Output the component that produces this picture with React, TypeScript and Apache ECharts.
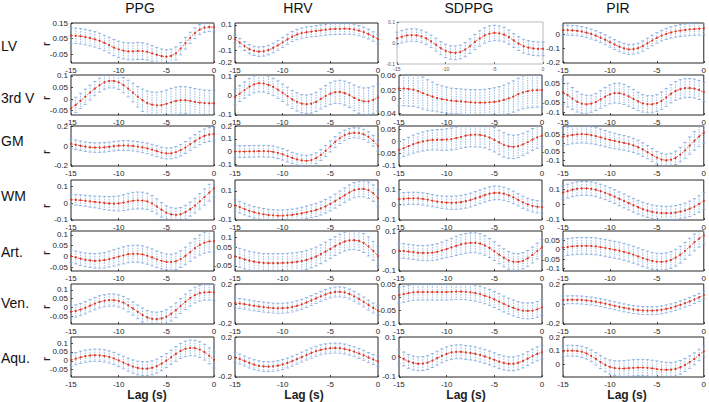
import React, { useEffect, useRef } from "react";
import * as echarts from "echarts";

const lags = [-15, -14.5, -14, -13.5, -13, -12.5, -12, -11.5, -11, -10.5, -10, -9.5, -9, -8.5, -8, -7.5, -7, -6.5, -6, -5.5, -5, -4.5, -4, -3.5, -3, -2.5, -2, -1.5, -1, -0.5, 0];
const rowNames = ["LV", "3rd V", "GM", "WM", "Art.", "Ven.", "Aqu."];
const colNames = ["PPG", "HRV", "SDPPG", "PIR"];
const xTicks = [-15, -10, -5, 0];

// ---- LV ----
const lvPPG = [0.07,0.068,0.065,0.06,0.053,0.045,0.035,0.022,0.008,-0.008,-0.02,-0.028,-0.032,-0.032,-0.03,-0.031,-0.036,-0.045,-0.055,-0.063,-0.067,-0.062,-0.045,-0.015,0.02,0.055,0.085,0.108,0.12,0.125,0.123];
const lvPPGErr = [0.05,0.05,0.05,0.05,0.05,0.05,0.05,0.05,0.051,0.052,0.053,0.054,0.055,0.055,0.055,0.054,0.052,0.05,0.048,0.046,0.045,0.044,0.042,0.04,0.038,0.036,0.034,0.032,0.03,0.03,0.03];
const lvHRV = [-0.013,-0.04,-0.068,-0.092,-0.106,-0.112,-0.11,-0.1,-0.083,-0.062,-0.039,-0.015,0.008,0.024,0.035,0.042,0.047,0.052,0.057,0.062,0.066,0.068,0.069,0.07,0.069,0.064,0.055,0.043,0.027,0.008,-0.013];
const lvHRVErr = [0.033,0.034,0.035,0.036,0.037,0.038,0.038,0.038,0.039,0.039,0.04,0.04,0.04,0.041,0.041,0.042,0.042,0.043,0.043,0.043,0.044,0.044,0.044,0.043,0.043,0.042,0.041,0.04,0.039,0.038,0.037];
const lvSDPPG = [0.022,0.03,0.036,0.038,0.037,0.032,0.022,0.008,-0.008,-0.025,-0.038,-0.045,-0.047,-0.043,-0.032,-0.015,0.005,0.022,0.036,0.045,0.048,0.046,0.04,0.028,0.012,-0.003,-0.015,-0.022,-0.026,-0.028,-0.028];
const lvSDPPGErr = [0.03,0.03,0.03,0.03,0.03,0.03,0.03,0.03,0.031,0.031,0.032,0.032,0.033,0.033,0.034,0.035,0.036,0.037,0.037,0.037,0.037,0.036,0.035,0.034,0.033,0.033,0.033,0.033,0.033,0.033,0.033];
const lvPIR = [0.032,0.032,0.03,0.027,0.022,0.014,0.004,-0.008,-0.022,-0.038,-0.055,-0.072,-0.088,-0.1,-0.107,-0.106,-0.098,-0.083,-0.063,-0.043,-0.024,-0.008,0.005,0.015,0.023,0.029,0.033,0.037,0.04,0.042,0.044];
const lvPIRErr = [0.036,0.036,0.036,0.036,0.036,0.036,0.036,0.036,0.036,0.036,0.036,0.036,0.036,0.036,0.036,0.036,0.036,0.037,0.037,0.038,0.038,0.039,0.04,0.041,0.042,0.043,0.044,0.045,0.046,0.047,0.048];

// ---- 3rd V ----
const v3PPG = [-0.04,-0.025,-0.008,0.01,0.028,0.045,0.06,0.072,0.078,0.078,0.072,0.06,0.045,0.028,0.01,-0.005,-0.017,-0.024,-0.027,-0.026,-0.021,-0.014,-0.008,-0.005,-0.005,-0.008,-0.012,-0.015,-0.017,-0.018,-0.018];
const v3PPGErr = [0.033,0.033,0.033,0.033,0.032,0.031,0.03,0.03,0.03,0.03,0.031,0.033,0.036,0.04,0.044,0.048,0.052,0.055,0.057,0.059,0.06,0.06,0.06,0.059,0.058,0.058,0.057,0.057,0.056,0.056,0.055];
const v3HRV = [-0.008,0.01,0.028,0.045,0.057,0.063,0.062,0.055,0.044,0.03,0.014,-0.003,-0.02,-0.033,-0.042,-0.045,-0.042,-0.033,-0.018,-0.003,0.01,0.017,0.018,0.012,0.002,-0.012,-0.024,-0.03,-0.03,-0.022,-0.01];
const v3HRVErr = [0.04,0.041,0.042,0.043,0.044,0.045,0.045,0.045,0.045,0.045,0.045,0.046,0.046,0.047,0.047,0.048,0.049,0.05,0.052,0.054,0.056,0.058,0.06,0.062,0.064,0.066,0.068,0.069,0.07,0.07,0.07];
const v3SDPPG = [0.025,0.025,0.024,0.022,0.018,0.013,0.008,0.004,0,-0.003,-0.005,-0.007,-0.008,-0.009,-0.01,-0.011,-0.012,-0.012,-0.012,-0.011,-0.01,-0.008,-0.005,-0.001,0.004,0.01,0.015,0.018,0.02,0.021,0.021];
const v3SDPPGErr = [0.045,0.045,0.045,0.044,0.043,0.042,0.04,0.038,0.036,0.035,0.034,0.033,0.033,0.033,0.033,0.033,0.034,0.034,0.035,0.036,0.037,0.038,0.039,0.04,0.041,0.042,0.043,0.044,0.045,0.045,0.045];
const v3PIR = [0.005,-0.01,-0.028,-0.045,-0.055,-0.058,-0.055,-0.046,-0.033,-0.018,-0.006,0,0,-0.006,-0.017,-0.03,-0.043,-0.053,-0.058,-0.058,-0.052,-0.04,-0.022,-0.003,0.012,0.021,0.026,0.027,0.024,0.017,0.006];
const v3PIRErr = [0.065,0.062,0.058,0.054,0.05,0.047,0.045,0.045,0.046,0.048,0.05,0.052,0.053,0.053,0.052,0.05,0.048,0.046,0.045,0.045,0.045,0.046,0.047,0.048,0.049,0.05,0.05,0.05,0.05,0.05,0.05];

// ---- GM ----
const gmPPG = [0.022,0.012,0.002,-0.007,-0.013,-0.016,-0.016,-0.013,-0.008,-0.002,0.003,0.005,0.004,0,-0.006,-0.014,-0.024,-0.037,-0.052,-0.066,-0.074,-0.073,-0.062,-0.042,-0.015,0.018,0.05,0.08,0.102,0.115,0.12];
const gmPPGErr = [0.048,0.048,0.048,0.048,0.048,0.048,0.048,0.048,0.048,0.048,0.048,0.049,0.05,0.05,0.051,0.052,0.053,0.054,0.055,0.055,0.055,0.055,0.056,0.058,0.06,0.062,0.064,0.066,0.068,0.07,0.07];
const gmHRV = [0,0,0,0.001,0.002,0.003,0.003,0.002,-0.002,-0.01,-0.022,-0.036,-0.05,-0.062,-0.07,-0.073,-0.068,-0.052,-0.027,0.005,0.04,0.075,0.105,0.128,0.142,0.147,0.145,0.135,0.115,0.085,0.045];
const gmHRVErr = [0.046,0.046,0.046,0.046,0.046,0.046,0.046,0.046,0.046,0.045,0.045,0.045,0.044,0.044,0.043,0.043,0.043,0.043,0.043,0.043,0.043,0.042,0.042,0.041,0.04,0.04,0.04,0.04,0.041,0.042,0.043];
const gmSDPPG = [-0.034,-0.027,-0.019,-0.011,-0.005,0,0.004,0.006,0.007,0.007,0.008,0.01,0.014,0.019,0.024,0.027,0.028,0.027,0.023,0.016,0.007,-0.004,-0.014,-0.02,-0.022,-0.019,-0.012,-0.003,0.008,0.017,0.024];
const gmSDPPGErr = [0.034,0.035,0.036,0.037,0.038,0.039,0.04,0.041,0.042,0.043,0.044,0.045,0.046,0.047,0.048,0.049,0.05,0.05,0.05,0.05,0.05,0.05,0.05,0.049,0.048,0.047,0.046,0.045,0.045,0.045,0.045];
const gmPIR = [0.035,0.04,0.045,0.048,0.049,0.048,0.044,0.038,0.031,0.024,0.017,0.011,0.005,0,-0.006,-0.014,-0.024,-0.037,-0.052,-0.068,-0.083,-0.094,-0.098,-0.095,-0.084,-0.066,-0.042,-0.015,0.012,0.036,0.058];
const gmPIRErr = [0.05,0.05,0.05,0.05,0.05,0.05,0.049,0.048,0.047,0.046,0.045,0.044,0.043,0.042,0.041,0.04,0.039,0.038,0.037,0.036,0.035,0.035,0.035,0.036,0.038,0.041,0.045,0.049,0.053,0.057,0.06];

// ---- WM ----
const wmPPG = [0.02,0.019,0.017,0.014,0.01,0.007,0.004,0.001,-0.002,-0.003,-0.002,0.003,0.009,0.014,0.016,0.015,0.01,-0.002,-0.02,-0.04,-0.057,-0.067,-0.07,-0.066,-0.054,-0.036,-0.015,0.01,0.036,0.062,0.088];
const wmPPGErr = [0.03,0.031,0.032,0.033,0.034,0.035,0.037,0.039,0.041,0.043,0.045,0.047,0.049,0.05,0.05,0.05,0.049,0.047,0.045,0.043,0.041,0.04,0.04,0.04,0.041,0.042,0.044,0.046,0.048,0.05,0.05];
const wmHRV = [0,-0.012,-0.025,-0.037,-0.047,-0.055,-0.061,-0.066,-0.069,-0.071,-0.071,-0.069,-0.065,-0.06,-0.054,-0.047,-0.04,-0.031,-0.02,-0.006,0.01,0.03,0.05,0.07,0.09,0.105,0.113,0.114,0.105,0.085,0.05];
const wmHRVErr = [0.04,0.04,0.04,0.04,0.04,0.04,0.04,0.04,0.04,0.04,0.04,0.04,0.04,0.041,0.042,0.043,0.044,0.045,0.046,0.047,0.048,0.049,0.05,0.051,0.052,0.053,0.054,0.055,0.056,0.057,0.058];
const wmSDPPG = [0.035,0.038,0.04,0.041,0.04,0.037,0.032,0.026,0.02,0.016,0.013,0.012,0.013,0.016,0.022,0.03,0.04,0.051,0.062,0.071,0.076,0.076,0.071,0.061,0.047,0.031,0.015,0.002,-0.008,-0.014,-0.017];
const wmSDPPGErr = [0.04,0.04,0.04,0.04,0.04,0.04,0.04,0.04,0.04,0.041,0.042,0.043,0.044,0.045,0.045,0.045,0.045,0.045,0.045,0.045,0.045,0.044,0.043,0.042,0.041,0.04,0.04,0.04,0.04,0.04,0.04];
const wmPIR = [0.078,0.088,0.097,0.103,0.106,0.106,0.103,0.097,0.088,0.077,0.065,0.052,0.038,0.024,0.01,-0.004,-0.017,-0.029,-0.039,-0.047,-0.052,-0.055,-0.056,-0.055,-0.052,-0.046,-0.038,-0.027,-0.013,0.004,0.024];
const wmPIRErr = [0.045,0.045,0.045,0.045,0.045,0.045,0.045,0.045,0.045,0.045,0.045,0.045,0.045,0.045,0.045,0.045,0.045,0.045,0.045,0.045,0.045,0.045,0.045,0.045,0.046,0.047,0.048,0.05,0.052,0.054,0.056];

// ---- Art. ----
const artPPG = [0.001,-0.005,-0.011,-0.016,-0.019,-0.021,-0.02,-0.018,-0.013,-0.007,-0.001,0.005,0.01,0.012,0.012,0.009,0.003,-0.005,-0.014,-0.021,-0.026,-0.027,-0.023,-0.013,0.002,0.02,0.038,0.053,0.064,0.07,0.071];
const artPPGErr = [0.03,0.03,0.031,0.032,0.033,0.034,0.035,0.036,0.037,0.038,0.039,0.04,0.04,0.04,0.04,0.04,0.04,0.04,0.039,0.038,0.037,0.037,0.038,0.039,0.041,0.043,0.045,0.047,0.049,0.05,0.05];
const artHRV = [0.001,-0.007,-0.015,-0.022,-0.027,-0.031,-0.034,-0.035,-0.035,-0.035,-0.034,-0.033,-0.031,-0.028,-0.024,-0.018,-0.01,0,0.012,0.026,0.04,0.055,0.068,0.079,0.085,0.086,0.082,0.071,0.053,0.03,0.002];
const artHRVErr = [0.05,0.05,0.05,0.05,0.05,0.05,0.05,0.05,0.05,0.05,0.05,0.05,0.05,0.05,0.05,0.05,0.05,0.05,0.05,0.05,0.05,0.05,0.05,0.05,0.05,0.05,0.05,0.05,0.05,0.05,0.05];
const artSDPPG = [0.002,0,-0.003,-0.006,-0.009,-0.01,-0.01,-0.008,-0.004,0.003,0.01,0.018,0.026,0.033,0.038,0.041,0.041,0.037,0.028,0.015,-0.001,-0.018,-0.034,-0.047,-0.054,-0.055,-0.049,-0.037,-0.02,0,0.018];
const artSDPPGErr = [0.037,0.037,0.037,0.037,0.037,0.038,0.039,0.04,0.041,0.042,0.044,0.046,0.048,0.05,0.05,0.05,0.05,0.05,0.049,0.048,0.047,0.046,0.045,0.044,0.043,0.042,0.041,0.04,0.04,0.04,0.04];
const artPIR = [0.01,0.014,0.017,0.019,0.02,0.02,0.019,0.017,0.013,0.009,0.004,-0.001,-0.006,-0.012,-0.019,-0.027,-0.036,-0.045,-0.053,-0.06,-0.064,-0.065,-0.062,-0.055,-0.043,-0.027,-0.007,0.015,0.038,0.058,0.075];
const artPIRErr = [0.045,0.045,0.045,0.045,0.045,0.045,0.045,0.045,0.045,0.045,0.045,0.045,0.045,0.045,0.045,0.045,0.045,0.045,0.045,0.045,0.045,0.045,0.045,0.045,0.045,0.045,0.045,0.045,0.045,0.045,0.045];

// ---- Ven. ----
const venPPG = [-0.025,-0.02,-0.012,-0.002,0.01,0.022,0.032,0.038,0.042,0.042,0.037,0.027,0.012,-0.006,-0.025,-0.043,-0.057,-0.065,-0.067,-0.063,-0.053,-0.037,-0.016,0.008,0.032,0.053,0.07,0.081,0.086,0.087,0.085];
const venPPGErr = [0.035,0.035,0.035,0.035,0.035,0.035,0.035,0.035,0.035,0.035,0.035,0.036,0.037,0.038,0.039,0.04,0.04,0.04,0.04,0.04,0.04,0.041,0.042,0.043,0.044,0.045,0.045,0.045,0.045,0.045,0.045];
const venHRV = [0.01,0.005,-0.002,-0.01,-0.018,-0.025,-0.031,-0.037,-0.041,-0.043,-0.042,-0.038,-0.03,-0.018,-0.003,0.015,0.035,0.056,0.077,0.096,0.111,0.12,0.122,0.116,0.1,0.077,0.05,0.02,-0.01,-0.04,-0.065];
const venHRVErr = [0.05,0.05,0.05,0.05,0.05,0.05,0.05,0.05,0.05,0.05,0.05,0.05,0.05,0.05,0.05,0.05,0.05,0.05,0.05,0.05,0.05,0.05,0.05,0.05,0.05,0.05,0.05,0.05,0.05,0.05,0.05];
const venSDPPG = [0.008,0.012,0.016,0.019,0.02,0.02,0.02,0.02,0.02,0.02,0.02,0.021,0.022,0.022,0.021,0.019,0.016,0.012,0.006,0,-0.008,-0.016,-0.025,-0.033,-0.04,-0.046,-0.05,-0.051,-0.05,-0.045,-0.038];
const venSDPPGErr = [0.03,0.03,0.03,0.03,0.03,0.03,0.03,0.03,0.03,0.03,0.03,0.03,0.03,0.03,0.03,0.03,0.03,0.03,0.03,0.03,0.03,0.03,0.03,0.03,0.03,0.03,0.03,0.03,0.03,0.03,0.03];
const venPIR = [0.04,0.042,0.043,0.042,0.04,0.036,0.03,0.023,0.014,0.004,-0.007,-0.018,-0.028,-0.038,-0.047,-0.055,-0.061,-0.065,-0.067,-0.067,-0.064,-0.058,-0.049,-0.038,-0.024,-0.009,0.008,0.026,0.045,0.066,0.088];
const venPIRErr = [0.04,0.04,0.04,0.04,0.04,0.04,0.04,0.04,0.04,0.04,0.04,0.04,0.04,0.04,0.04,0.04,0.04,0.04,0.04,0.04,0.04,0.04,0.04,0.04,0.04,0.04,0.04,0.04,0.04,0.04,0.04];

// ---- Aqu. ----
const aquPPG = [0.004,0.012,0.02,0.026,0.03,0.032,0.031,0.028,0.022,0.013,0.002,-0.01,-0.022,-0.033,-0.041,-0.045,-0.045,-0.04,-0.03,-0.016,0.001,0.02,0.039,0.056,0.068,0.073,0.072,0.064,0.049,0.028,0.005];
const aquPPGErr = [0.035,0.035,0.035,0.035,0.035,0.035,0.035,0.035,0.035,0.035,0.035,0.036,0.037,0.038,0.039,0.04,0.04,0.04,0.04,0.04,0.04,0.041,0.042,0.043,0.044,0.045,0.045,0.045,0.045,0.045,0.045];
const aquHRV = [-0.005,-0.02,-0.04,-0.06,-0.077,-0.088,-0.095,-0.097,-0.094,-0.087,-0.075,-0.06,-0.042,-0.022,-0.001,0.02,0.04,0.058,0.072,0.082,0.088,0.09,0.088,0.08,0.068,0.053,0.035,0.017,-0.005,-0.025,-0.045];
const aquHRVErr = [0.05,0.05,0.05,0.05,0.05,0.05,0.05,0.05,0.05,0.05,0.05,0.05,0.05,0.05,0.05,0.05,0.05,0.05,0.05,0.05,0.05,0.05,0.05,0.05,0.05,0.05,0.05,0.05,0.05,0.05,0.05];
const aquSDPPG = [0.003,-0.01,-0.022,-0.03,-0.034,-0.033,-0.028,-0.018,-0.006,0.006,0.016,0.023,0.026,0.026,0.023,0.02,0.016,0.01,0.003,-0.005,-0.014,-0.023,-0.03,-0.034,-0.034,-0.029,-0.02,-0.008,0.005,0.016,0.024];
const aquSDPPGErr = [0.035,0.035,0.035,0.035,0.035,0.035,0.035,0.035,0.035,0.035,0.035,0.035,0.035,0.035,0.035,0.035,0.035,0.035,0.035,0.035,0.035,0.035,0.035,0.035,0.035,0.035,0.035,0.035,0.035,0.035,0.035];
const aquPIR = [0.095,0.1,0.1,0.098,0.092,0.08,0.062,0.04,0.016,-0.005,-0.02,-0.028,-0.031,-0.031,-0.029,-0.026,-0.024,-0.024,-0.026,-0.03,-0.035,-0.039,-0.041,-0.04,-0.034,-0.022,-0.005,0.016,0.04,0.068,0.095];
const aquPIRErr = [0.04,0.04,0.04,0.04,0.041,0.042,0.044,0.046,0.048,0.05,0.052,0.054,0.056,0.058,0.06,0.06,0.06,0.06,0.06,0.06,0.06,0.058,0.056,0.054,0.052,0.05,0.048,0.046,0.044,0.042,0.04];

const means = [
  [lvPPG, lvHRV, lvSDPPG, lvPIR],
  [v3PPG, v3HRV, v3SDPPG, v3PIR],
  [gmPPG, gmHRV, gmSDPPG, gmPIR],
  [wmPPG, wmHRV, wmSDPPG, wmPIR],
  [artPPG, artHRV, artSDPPG, artPIR],
  [venPPG, venHRV, venSDPPG, venPIR],
  [aquPPG, aquHRV, aquSDPPG, aquPIR],
];
const errs = [
  [lvPPGErr, lvHRVErr, lvSDPPGErr, lvPIRErr],
  [v3PPGErr, v3HRVErr, v3SDPPGErr, v3PIRErr],
  [gmPPGErr, gmHRVErr, gmSDPPGErr, gmPIRErr],
  [wmPPGErr, wmHRVErr, wmSDPPGErr, wmPIRErr],
  [artPPGErr, artHRVErr, artSDPPGErr, artPIRErr],
  [venPPGErr, venHRVErr, venSDPPGErr, venPIRErr],
  [aquPPGErr, aquHRVErr, aquSDPPGErr, aquPIRErr],
];
// y-axis limits [min, max] per panel
const yLimits = [
  [[-0.107, 0.15], [-0.202, 0.115], [-0.1, 0.1], [-0.205, 0.083]],
  [[-0.068, 0.103], [-0.1, 0.105], [-0.044, 0.06], [-0.114, 0.095]],
  [[-0.2, 0.2], [-0.113, 0.2], [-0.1, 0.063], [-0.13, 0.095]],
  [[-0.1, 0.137], [-0.1, 0.175], [-0.1, 0.16], [-0.1, 0.16]],
  [[-0.068, 0.118], [-0.076, 0.134], [-0.1, 0.1], [-0.113, 0.098]],
  [[-0.094, 0.133], [-0.2, 0.2], [-0.1, 0.05], [-0.2, 0.2]],
  [[-0.092, 0.135], [-0.2, 0.2], [-0.1, 0.1], [-0.093, 0.2]],
];
// y tick labels per panel
const yTickValues = [
  [[-0.05, 0, 0.05, 0.1, 0.15], [-0.2, -0.1, 0, 0.1], [-0.1, 0, 0.1], [-0.2, -0.1, 0]],
  [[-0.05, 0, 0.05, 0.1], [-0.1, 0, 0.1], [-0.04, -0.02, 0, 0.02, 0.04, 0.06], [-0.1, -0.05, 0, 0.05]],
  [[-0.2, 0, 0.2], [-0.1, 0, 0.1, 0.2], [-0.1, -0.05, 0, 0.05], [-0.1, -0.05, 0, 0.05]],
  [[-0.1, 0, 0.1], [-0.1, 0, 0.1], [-0.1, 0, 0.1], [-0.1, 0, 0.1]],
  [[-0.05, 0, 0.05, 0.1], [-0.05, 0, 0.05, 0.1], [-0.1, 0, 0.1], [-0.1, -0.05, 0, 0.05]],
  [[-0.05, 0, 0.05, 0.1], [-0.2, 0, 0.2], [-0.1, -0.05, 0, 0.05], [-0.2, 0, 0.2]],
  [[-0.05, 0, 0.05, 0.1], [-0.2, 0, 0.2], [-0.1, 0, 0.1], [0, 0.1, 0.2]],
];

const W = 709;
const H = 402;
const FONT = "'Liberation Sans', Arial, sans-serif";
const AXIS = "#262626";
const BLUE = "#7ea7dc";
const RED = "#e2321f";
const colLeft = [71, 235, 399, 563];
const colWidth = 143;
const rowTop = [23, 75, 126, 180, 231, 284, 337];
const rowHeight = 40;
const titleX = [140, 298, 469, 618];
const lagX = [147, 304, 466, 627];
const rowLabelY = [46, 98, 141, 196, 252, 303, 358];
const rLabelY = [44, 98, 152, 206, 253, 307, 359];
const EPS = 0.0004;

const fmt = (v: number) => String(parseFloat(Number(v).toFixed(3)));

export default function App() {
  const ref = useRef<HTMLDivElement>(null);
  useEffect(() => {
    if (!ref.current) return;
    const chart = echarts.init(ref.current, null, { renderer: "svg" });
    const grids: any[] = [];
    const xAxes: any[] = [];
    const yAxes: any[] = [];
    const series: any[] = [];
    for (let r = 0; r < rowNames.length; r++) {
      for (let c = 0; c < colNames.length; c++) {
        const k = r * 4 + c;
        const special = r === 0 && c === 2;
        const fs = special ? 5 : 8;
        const lc = special ? "#555" : AXIS;
        grids.push({
          left: special ? 397 : colLeft[c],
          top: special ? 22 : rowTop[r],
          width: special ? 146 : colWidth,
          height: special ? 42 : rowHeight,
          show: true,
          borderColor: special ? "#aaaaaa" : AXIS,
          borderWidth: special ? 0.8 : 1,
          backgroundColor: "#fff",
          containLabel: false,
        });
        xAxes.push({
          type: "value",
          gridIndex: k,
          position: "bottom",
          min: -15,
          max: 0,
          interval: 5,
          axisLine: { show: false, onZero: false },
          axisTick: { show: true, inside: true, length: 2, lineStyle: { color: lc, width: 0.8 }, customValues: xTicks },
          axisLabel: { fontSize: fs, color: lc, margin: special ? 2 : 3, fontFamily: FONT, customValues: xTicks, formatter: fmt, showMinLabel: true, showMaxLabel: true },
          splitLine: { show: false },
        });
        const [mn, mx] = yLimits[r][c];
        yAxes.push({
          type: "value",
          gridIndex: k,
          position: "left",
          min: mn - EPS,
          max: mx + EPS,
          axisLine: { show: false, onZero: false },
          axisTick: { show: true, inside: true, length: 2, lineStyle: { color: lc, width: 0.8 }, customValues: yTickValues[r][c] },
          axisLabel: { fontSize: fs, color: lc, margin: special ? 2 : 3, fontFamily: FONT, customValues: yTickValues[r][c], formatter: fmt, showMinLabel: true, showMaxLabel: true },
          splitLine: { show: false },
        });
        const m = means[r][c];
        const e = errs[r][c];
        series.push({
          type: "custom",
          xAxisIndex: k,
          yAxisIndex: k,
          silent: true,
          z: 2,
          encode: { x: 0, y: [1, 2] },
          data: lags.map((l, i) => [l, m[i] - e[i], m[i] + e[i]]),
          renderItem: (params: any, api: any) => {
            const x = api.value(0);
            const pHi = api.coord([x, api.value(2)]);
            const pLo = api.coord([x, api.value(1)]);
            const cs = params.coordSys;
            const top = cs.y;
            const bot = cs.y + cs.height;
            const y1 = Math.max(pHi[1], top);
            const y2 = Math.min(pLo[1], bot);
            const children: any[] = [];
            if (y2 > y1) {
              children.push({
                type: "line",
                shape: { x1: pHi[0], y1, x2: pHi[0], y2 },
                style: { stroke: BLUE, lineWidth: 0.8, lineDash: [1.5, 1] },
              });
            }
            const cw = 1.6;
            if (pHi[1] >= top && pHi[1] <= bot) {
              children.push({ type: "line", shape: { x1: pHi[0] - cw, y1: pHi[1], x2: pHi[0] + cw, y2: pHi[1] }, style: { stroke: BLUE, lineWidth: 0.8 } });
            }
            if (pLo[1] >= top && pLo[1] <= bot) {
              children.push({ type: "line", shape: { x1: pLo[0] - cw, y1: pLo[1], x2: pLo[0] + cw, y2: pLo[1] }, style: { stroke: BLUE, lineWidth: 0.8 } });
            }
            return { type: "group", children };
          },
        });
        series.push({
          type: "line",
          xAxisIndex: k,
          yAxisIndex: k,
          silent: true,
          z: 3,
          data: lags.map((l, i) => [l, m[i]]),
          symbol: "circle",
          symbolSize: 2,
          showSymbol: true,
          showAllSymbol: true,
          lineStyle: { color: RED, width: 0.8, type: [2, 1.5] },
          itemStyle: { color: RED },
        });
      }
    }
    const graphics: any[] = [];
    colNames.forEach((name, c) => {
      graphics.push({
        type: "text",
        x: titleX[c],
        y: 8,
        style: { text: name, fontSize: 14, fontFamily: FONT, fill: "#111", textAlign: "center", textVerticalAlign: "middle" },
      });
      graphics.push({
        type: "text",
        x: lagX[c],
        y: 395,
        style: { text: "Lag (s)", fontSize: 12, fontWeight: "bold", fontFamily: FONT, fill: "#222", textAlign: "center", textVerticalAlign: "middle" },
      });
    });
    rowNames.forEach((name, r) => {
      graphics.push({
        type: "text",
        x: 1,
        y: rowLabelY[r],
        style: { text: name, fontSize: 14, fontFamily: FONT, fill: "#111", textAlign: "left", textVerticalAlign: "middle" },
      });
      graphics.push({
        type: "text",
        x: 46,
        y: rLabelY[r],
        rotation: Math.PI / 2,
        style: { text: "r", fontSize: 10, fontWeight: "bold", fontFamily: FONT, fill: "#222", textAlign: "center", textVerticalAlign: "middle" },
      });
    });
    chart.setOption({
      animation: false,
      backgroundColor: "#fff",
      grid: grids,
      xAxis: xAxes,
      yAxis: yAxes,
      series,
      graphic: graphics,
    });
    return () => chart.dispose();
  }, []);
  return <div ref={ref} style={{ position: "absolute", left: 0, top: 0, width: W, height: H }} />;
}
